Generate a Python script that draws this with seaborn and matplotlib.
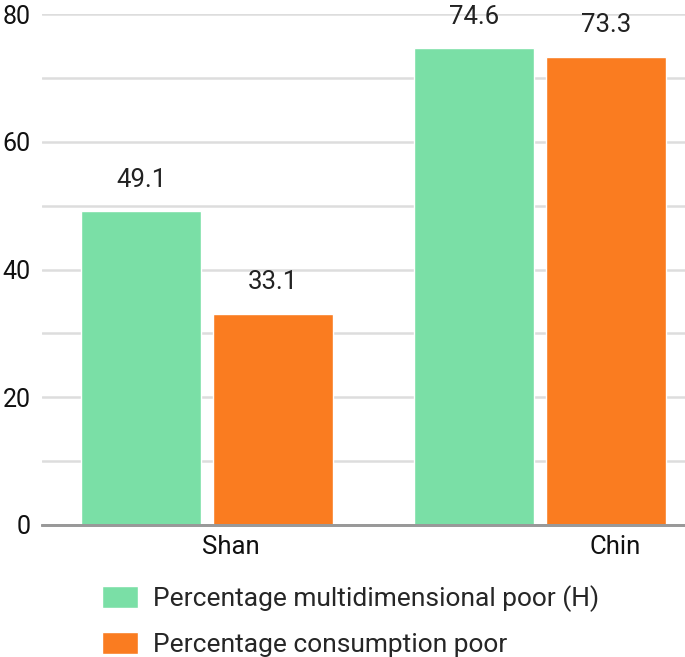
import pandas as pd
import matplotlib
matplotlib.use("Agg")
import matplotlib.pyplot as plt
import seaborn as sns

# ----- Dados -----
regioes = ["Shan", "Chin"]
series = ["Percentage multidimensional poor (H)", "Percentage consumption poor"]
valores_h = [49.1, 74.6]
valores_consumo = [33.1, 73.3]
cores = ["#7ADFA6", "#FA7C20"]

df = pd.DataFrame({
    "regiao": regioes * 2,
    "serie": [series[0]] * len(regioes) + [series[1]] * len(regioes),
    "valor": valores_h + valores_consumo,
})

# ----- Estilo -----
sns.set_style("white")
plt.rcParams["font.family"] = ["Roboto", "DejaVu Sans"]

fig = plt.figure(figsize=(6.85, 6.57), dpi=100)
ax = fig.add_axes([42 / 685, 1 - 525 / 657, 1 - 42 / 685, (525 - 14) / 657])

sns.barplot(data=df, x="regiao", y="valor", hue="serie", order=regioes,
            hue_order=series, palette=cores, width=0.793, gap=0.09,
            saturation=1, ax=ax, legend=True)

# rótulos dos valores acima das barras
for cont in ax.containers:
    ax.bar_label(cont, fmt="%.1f", padding=14, fontsize=18.5, color="#222222")

ax.set_xlim(-0.496, 1.435)
ax.set_ylim(0, 80)

# grade: linhas a cada 10, rótulos a cada 20
ax.set_yticks([0, 20, 40, 60, 80])
ax.set_yticks([10, 30, 50, 70], minor=True)
ax.grid(axis="y", which="both", color="#dddddd", linewidth=1.8)
ax.set_axisbelow(True)
ax.tick_params(axis="y", which="both", length=0, pad=8, labelsize=18, labelcolor="#111111")

# rótulos do eixo x deslocados como no original
ax.set_xticks([0.072, 1.225], regioes)
ax.tick_params(axis="x", length=0, pad=7, labelsize=18.5, labelcolor="#111111")
ax.set_xlabel("")
ax.set_ylabel("")

for lado in ["top", "right", "left"]:
    ax.spines[lado].set_visible(False)
ax.spines["bottom"].set_color("#999999")
ax.spines["bottom"].set_linewidth(2)
ax.axhline(0, color="#999999", linewidth=2, zorder=5, clip_on=False)

# legenda embaixo
handles, labels = ax.get_legend_handles_labels()
ax.get_legend().remove()
fig.legend(handles, labels, loc="upper left", bbox_to_anchor=(102 / 685, 1 - 585 / 657),
           frameon=False, fontsize=19, handlelength=1.37, handleheight=0.9,
           handletextpad=0.55, labelspacing=0.75, borderpad=0, borderaxespad=0)

fig.savefig("out.png", dpi=100)
